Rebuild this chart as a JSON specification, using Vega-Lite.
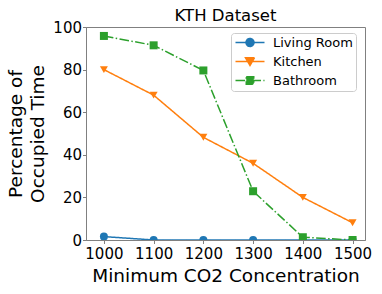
{
  "$schema": "https://vega.github.io/schema/vega-lite/v6.json",
  "autosize": "none",
  "width": 279,
  "height": 213,
  "padding": {"left": 86, "top": 27, "right": 17, "bottom": 54},
  "background": "white",
  "title": {"text": "KTH Dataset", "fontSize": 16.5, "fontWeight": "normal", "font": "DejaVu Sans", "color": "black", "offset": -4, "anchor": "middle"},
  "data": {"values": [
    {"co2": 1000, "pct": 1.6, "series": "Living Room"},
    {"co2": 1100, "pct": 0, "series": "Living Room"},
    {"co2": 1200, "pct": 0, "series": "Living Room"},
    {"co2": 1300, "pct": 0, "series": "Living Room"},
    {"co2": 1400, "pct": 0, "series": "Living Room"},
    {"co2": 1500, "pct": 0, "series": "Living Room"},
    {"co2": 1000, "pct": 80, "series": "Kitchen"},
    {"co2": 1100, "pct": 68, "series": "Kitchen"},
    {"co2": 1200, "pct": 48.2, "series": "Kitchen"},
    {"co2": 1300, "pct": 36, "series": "Kitchen"},
    {"co2": 1400, "pct": 20, "series": "Kitchen"},
    {"co2": 1500, "pct": 8.1, "series": "Kitchen"},
    {"co2": 1000, "pct": 95.8, "series": "Bathroom"},
    {"co2": 1100, "pct": 91.4, "series": "Bathroom"},
    {"co2": 1200, "pct": 79.6, "series": "Bathroom"},
    {"co2": 1300, "pct": 22.9, "series": "Bathroom"},
    {"co2": 1400, "pct": 1.3, "series": "Bathroom"},
    {"co2": 1500, "pct": 0, "series": "Bathroom"}
  ]},
  "encoding": {
    "x": {"field": "co2", "type": "quantitative",
      "scale": {"domain": [964, 1525], "nice": false, "zero": false},
      "axis": {"values": [1000, 1100, 1200, 1300, 1400, 1500], "format": "d", "title": "Minimum CO2 Concentration", "titlePadding": 5, "labelPadding": 3}},
    "y": {"field": "pct", "type": "quantitative",
      "scale": {"domain": [0, 100], "nice": false},
      "axis": {"values": [0, 20, 40, 60, 80, 100], "title": ["Percentage of", "Occupied Time"], "titlePadding": 5, "labelPadding": 1}},
    "color": {"field": "series", "type": "nominal",
      "scale": {"domain": ["Living Room", "Kitchen", "Bathroom"], "range": ["#1f77b4", "#ff7f0e", "#2ca02c"]},
      "legend": null}
  },
  "layer": [
    {
      "mark": {"type": "point", "filled": true, "size": 0, "opacity": 1, "clip": true},
      "encoding": {
        "color": {"field": "series", "type": "nominal",
          "scale": {"domain": ["Living Room", "Kitchen", "Bathroom"], "range": ["#1f77b4", "#ff7f0e", "#2ca02c"]},
          "legend": {"title": null, "orient": "none", "legendX": 145, "legendY": 6}},
        "stroke": {"field": "series", "type": "nominal",
          "scale": {"domain": ["Living Room", "Kitchen", "Bathroom"], "range": ["#1f77b4", "#ff7f0e", "#2ca02c"]},
          "legend": {"title": null, "orient": "none", "legendX": 145, "legendY": 6}},
        "shape": {"field": "series", "type": "nominal",
          "scale": {"domain": ["Living Room", "Kitchen", "Bathroom"], "range": [
            "M-2.9,0L2.9,0M0.8,0A0.8,0.8,0,1,1,-0.8,0A0.8,0.8,0,1,1,0.8,0Z",
            "M-2.9,0L2.9,0M-0.9,-0.75L0.9,-0.75L0,0.8Z",
            "M-2.9,0L2.9,0M-0.75,-0.75L0.75,-0.75L0.75,0.75L-0.75,0.75Z"]},
          "legend": {"title": null, "orient": "none", "legendX": 145, "legendY": 6}}
      }
    },
    {
      "mark": {"type": "line", "strokeWidth": 1.5, "clip": true},
      "encoding": {
        "strokeDash": {"field": "series", "type": "nominal",
          "scale": {"domain": ["Living Room", "Kitchen", "Bathroom"], "range": [[1, 0], [1, 0], [9.6, 2.4, 1.5, 2.4]]},
          "legend": null}
      }
    },
    {
      "transform": [{"filter": "datum.series === 'Living Room'"}],
      "mark": {"type": "point", "shape": "circle", "filled": true, "size": 64, "opacity": 1, "clip": true},
      "encoding": {}
    },
    {
      "transform": [{"filter": "datum.series === 'Kitchen'"}],
      "mark": {"type": "point", "shape": "triangle-down", "filled": true, "size": 64, "opacity": 1, "clip": true},
      "encoding": {}
    },
    {
      "transform": [{"filter": "datum.series === 'Bathroom'"}],
      "mark": {"type": "point", "shape": "square", "filled": true, "size": 64, "opacity": 1, "clip": true},
      "encoding": {}
    }
  ],
  "config": {
    "font": "DejaVu Sans",
    "view": {"stroke": "#808080", "strokeWidth": 1},
    "axis": {
      "grid": false, "domainColor": "#808080", "tickColor": "#808080", "tickSize": 3.5,
      "labelFont": "DejaVu Sans", "labelFontSize": 15, "labelColor": "black",
      "titleFont": "DejaVu Sans", "titleFontSize": 18.5, "titleFontWeight": "normal", "titleColor": "black"
    },
    "axisY": {"titleLineHeight": 22},
    "legend": {
      "padding": 3, "fillColor": "white", "strokeColor": "#cccccc", "cornerRadius": 3,
      "labelFont": "DejaVu Sans", "labelFontSize": 13, "labelColor": "black",
      "symbolSize": 100, "symbolOffset": 9.5, "labelOffset": 16.5, "rowPadding": 4,
      "symbolStrokeWidth": 1.5, "symbolOpacity": 1
    }
  }
}
